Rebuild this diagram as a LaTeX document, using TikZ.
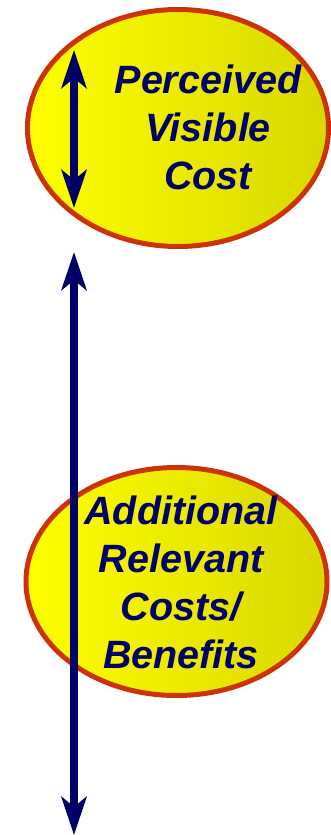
\documentclass[tikz,border=0pt]{standalone}
\usepackage{fontspec}
\setmainfont{Liberation Sans}
\usetikzlibrary{shapes.geometric,arrows.meta}
\definecolor{navy}{HTML}{000066}
\definecolor{rim}{HTML}{CC3300}
\definecolor{yel}{HTML}{FFFF00}
\definecolor{yeldark}{HTML}{D8D800}
\tikzset{
  bubble/.style={ellipse, draw=rim, line width=5pt, left color=yel, right color=yeldark, inner sep=0pt},
  label/.style={text=navy, font=\fontsize{39.5}{48}\selectfont\bfseries\itshape, align=center, inner sep=0pt},
  dblarrow/.style={draw=navy, line width=8pt, {Stealth[length=38pt,width=25pt,inset=10pt]}-{Stealth[length=38pt,width=25pt,inset=10pt]}}
}
\begin{document}
\begin{tikzpicture}[x=1pt,y=-1pt]
\useasboundingbox (0,0) rectangle (331,835);
\node[bubble, minimum width=301pt, minimum height=237pt] (top) at (178,128) {};
\node[label] (toptext) at (208,127) {Perceived\\Visible\\Cost};
\coordinate (a1) at (74,50);
\coordinate (a2) at (74,208);
\draw[dblarrow] (a1) -- (a2);
\node[bubble, minimum width=301pt, minimum height=228pt] (bot) at (176.5,581.5) {};
\node[label] (bottext) at (181,582) {Additional\\Relevant\\Costs/\\Benefits};
\coordinate (b1) at (74,252);
\coordinate (b2) at (74,835);
\draw[dblarrow] (b1) -- (b2);
\end{tikzpicture}
\end{document}
